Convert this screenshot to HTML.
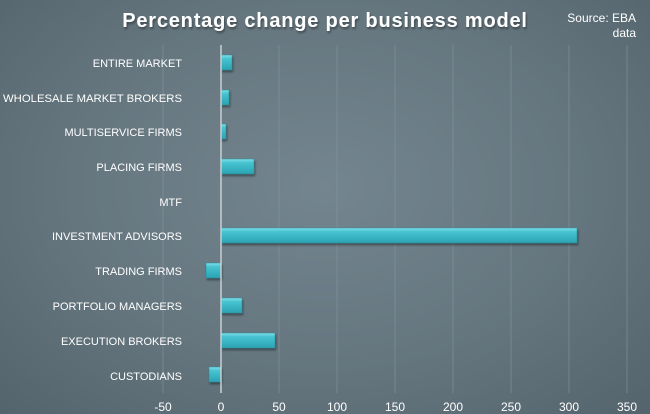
<!DOCTYPE html>
<html><head><style>
body{margin:0;width:650px;height:414px;overflow:hidden;background:radial-gradient(ellipse at 50% 45%,#74858f 0%,#65767f 55%,#54646d 100%);font-family:"Liberation Sans",sans-serif;}
</style></head><body>
<svg width="650" height="414" xmlns="http://www.w3.org/2000/svg" style="position:absolute;left:0;top:0">
<defs>
<linearGradient id="b" x1="0" y1="0" x2="0" y2="1">
<stop offset="0" stop-color="#7fe0ea"/><stop offset="0.25" stop-color="#47c3d0"/><stop offset="1" stop-color="#2aa3b2"/>
</linearGradient>
<filter id="s" x="-20%" y="-20%" width="140%" height="160%"><feDropShadow dx="1" dy="2" stdDeviation="1" flood-color="#000" flood-opacity="0.4"/></filter>
</defs>
<text x="325" y="27" text-anchor="middle" font-size="20" font-weight="bold" fill="#fff" letter-spacing="0.8" filter="url(#s)">Percentage change per business model</text>
<text x="636" y="22" text-anchor="end" font-size="12" fill="#fff">Source: EBA</text>
<text x="636" y="37" text-anchor="end" font-size="12" fill="#fff">data</text>
<g stroke="#8595a0" stroke-width="1" opacity="0.6">
<line x1="163" y1="45" x2="163" y2="393"/><line x1="279" y1="45" x2="279" y2="393"/><line x1="337" y1="45" x2="337" y2="393"/><line x1="395" y1="45" x2="395" y2="393"/><line x1="453" y1="45" x2="453" y2="393"/><line x1="511" y1="45" x2="511" y2="393"/><line x1="569" y1="45" x2="569" y2="393"/><line x1="627" y1="45" x2="627" y2="393"/>
</g>
<g fill="url(#b)" stroke="#2b8a96" stroke-width="0.5" filter="url(#s)">
<rect x="221" y="55" width="11" height="15"/>
<rect x="221" y="90" width="8" height="15"/>
<rect x="221" y="124" width="5" height="15"/>
<rect x="221" y="159" width="33" height="15"/>
<rect x="221" y="228" width="356" height="15"/>
<rect x="206" y="263" width="15" height="15"/>
<rect x="221" y="298" width="21" height="15"/>
<rect x="221" y="333" width="54" height="15"/>
<rect x="209" y="367" width="12" height="15"/>
</g>
<line x1="221" y1="45" x2="221" y2="393" stroke="#c8cfd3" stroke-width="1.5"/>
<g font-size="11" fill="#fff" text-anchor="end">
<text x="182" y="67">ENTIRE MARKET</text>
<text x="182" y="102" textLength="179" lengthAdjust="spacingAndGlyphs">WHOLESALE MARKET BROKERS</text>
<text x="182" y="136">MULTISERVICE FIRMS</text>
<text x="182" y="171">PLACING FIRMS</text>
<text x="182" y="206">MTF</text>
<text x="182" y="240">INVESTMENT ADVISORS</text>
<text x="182" y="275">TRADING FIRMS</text>
<text x="182" y="310">PORTFOLIO MANAGERS</text>
<text x="182" y="345">EXECUTION BROKERS</text>
<text x="182" y="380">CUSTODIANS</text>
</g>
<g font-size="12" fill="#fff" text-anchor="middle">
<text x="163" y="411">-50</text><text x="221" y="411">0</text><text x="279" y="411">50</text><text x="337" y="411">100</text><text x="395" y="411">150</text><text x="453" y="411">200</text><text x="511" y="411">250</text><text x="569" y="411">300</text><text x="627" y="411">350</text>
</g>
</svg>
</body></html>
